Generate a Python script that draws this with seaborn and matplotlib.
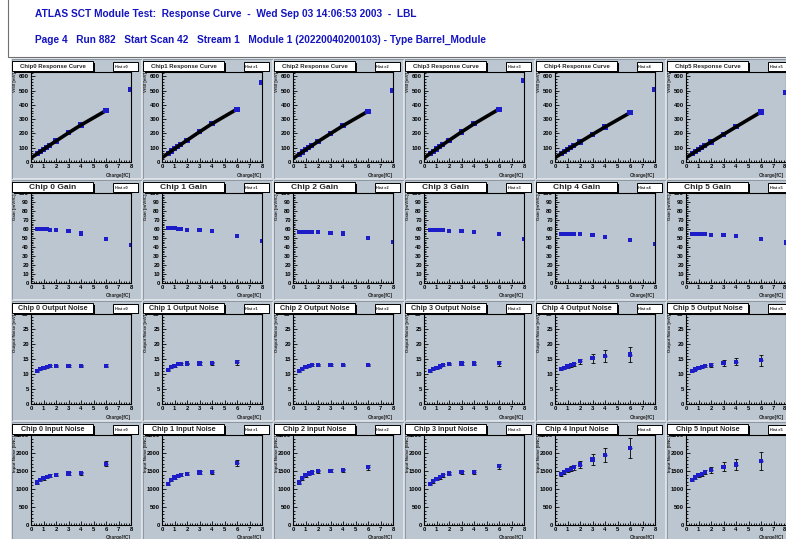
import matplotlib
matplotlib.use("Agg")
import matplotlib.pyplot as plt
from matplotlib.patches import Rectangle
from matplotlib.ticker import MultipleLocator
import pandas as pd
import seaborn as sns

sns.set_theme(style="ticks")
plt.rcParams['font.family'] = ['Liberation Sans', 'DejaVu Sans']

# ---------------------------------------------------------------- data
chips = [0, 1, 2, 3, 4, 5]
charges = [0.5, 0.75, 1.0, 1.25, 1.5, 2.0, 3.0, 4.0, 6.0, 8.0]
noise_charges = charges[:9]

# Vt50 at each injected charge [mV]
vt50 = {
    0: [58, 73, 88, 103, 118, 147, 204, 259, 360, 507],
    1: [61, 77, 92, 107, 122, 152, 211, 268, 370, 555],
    2: [55, 70, 85, 100, 114, 143, 199, 254, 355, 500],
    3: [60, 76, 91, 106, 121, 151, 210, 267, 370, 572],
    4: [58, 72, 86, 100, 113, 140, 193, 245, 345, 510],
    5: [58, 72, 86, 99, 113, 140, 193, 246, 350, 488],
}
# fitted response at zero charge [mV]
fit_offset = {0: 28, 1: 30, 2: 25, 3: 28, 4: 30, 5: 30}

gain = {
    0: [60, 60, 60, 60, 59, 59, 58, 55, 49, 42],
    1: [61, 61, 61, 60, 60, 59, 59, 58, 52, 47],
    2: [57, 57, 57, 57, 57, 57, 56, 55, 50, 46],
    3: [59, 59, 59, 59, 59, 58, 58, 57, 54, 49],
    4: [54, 54, 54, 54, 54, 54, 53, 51, 48, 43],
    5: [54, 54, 54, 54, 54, 53, 53, 52, 49, 45],
}

out_noise = {
    0: [11.0, 11.6, 12.0, 12.3, 12.6, 12.8, 12.8, 12.6, 12.8],
    1: [11.3, 12.2, 12.8, 13.2, 13.4, 13.5, 13.5, 13.6, 13.9],
    2: [11.0, 11.8, 12.3, 12.7, 12.9, 13.0, 13.0, 13.0, 13.0],
    3: [11.0, 11.6, 12.1, 12.5, 12.9, 13.4, 13.5, 13.5, 13.6],
    4: [11.7, 12.1, 12.5, 12.9, 13.3, 14.2, 15.2, 16.0, 16.5],
    5: [11.0, 11.5, 11.9, 12.3, 12.6, 13.1, 13.8, 14.1, 14.6],
}
out_noise_err = {
    0: [0.3, 0.3, 0.3, 0.3, 0.3, 0.3, 0.3, 0.3, 0.4],
    1: [0.3, 0.3, 0.3, 0.3, 0.3, 0.3, 0.4, 0.5, 0.9],
    2: [0.3, 0.3, 0.3, 0.3, 0.3, 0.3, 0.3, 0.3, 0.4],
    3: [0.3, 0.3, 0.3, 0.3, 0.3, 0.3, 0.4, 0.5, 0.8],
    4: [0.3, 0.3, 0.4, 0.5, 0.5, 0.8, 1.5, 2.0, 2.5],
    5: [0.3, 0.3, 0.3, 0.4, 0.4, 0.6, 1.0, 1.2, 1.8],
}

in_noise = {
    0: [1180, 1260, 1300, 1340, 1370, 1400, 1430, 1440, 1700],
    1: [1150, 1250, 1320, 1370, 1400, 1420, 1460, 1470, 1720],
    2: [1180, 1300, 1380, 1430, 1460, 1490, 1510, 1520, 1600],
    3: [1150, 1220, 1280, 1330, 1380, 1430, 1470, 1480, 1630],
    4: [1420, 1480, 1520, 1560, 1600, 1680, 1820, 1950, 2150],
    5: [1250, 1320, 1380, 1420, 1470, 1520, 1620, 1680, 1780],
}
in_noise_err = {
    0: [40, 40, 40, 40, 40, 40, 40, 40, 70],
    1: [40, 40, 40, 40, 40, 40, 40, 50, 80],
    2: [40, 40, 40, 40, 40, 40, 40, 40, 60],
    3: [40, 40, 40, 40, 40, 40, 40, 50, 70],
    4: [50, 50, 60, 70, 80, 100, 150, 200, 280],
    5: [40, 40, 50, 50, 60, 80, 120, 150, 250],
}

header_line1 = "ATLAS SCT Module Test:  Response Curve  -  Wed Sep 03 14:06:53 2003  -  LBL"
header_line2 = ("Page 4   Run 882   Start Scan 42   Stream 1   "
                "Module 1 (20220040200103) - Type Barrel_Module")

rows = [
    dict(title="Chip{} Response Curve", ylabel="Vt50 [mV]", ylim=630, major=100, minor=20, tsize=4.3),
    dict(title="Chip {} Gain", ylabel="Gain [mV/fC]", ylim=100, major=10, minor=2, tsize=6.0),
    dict(title="Chip {} Output Noise", ylabel="Output Noise [mV]", ylim=30, major=5, minor=1, tsize=5.2),
    dict(title="Chip {} Input Noise", ylabel="Input Noise [ENC]", ylim=2500, major=500, minor=100, tsize=5.2),
]

# ---------------------------------------------------------------- style
W, H = 786, 539
PAD = "#bcc6d0"
BLUE = "#1c1cc8"
HEAD = "#1414c0"

fig = plt.figure(figsize=(W / 100, H / 100), dpi=100)
fig.patch.set_facecolor("white")


def rect(x, y, w, h, z=3, **kw):
    """Rectangle in pixel units, origin at the top-left corner."""
    fig.patches.append(Rectangle((x / W, 1 - (y + h) / H), w / W, h / H,
                                 transform=fig.transFigure, figure=fig, zorder=z, **kw))


def ftext(x, y, s, **kw):
    kw.setdefault("zorder", 5)
    fig.text(x / W, 1 - y / H, s, **kw)


# header block
rect(8, -2, 790, 59, z=-2, facecolor="white", edgecolor="#707070", lw=0.8)
ftext(35, 14, header_line1, color=HEAD, fontsize=7.3, fontweight="bold",
      va="center", ha="left")
ftext(35, 40, header_line2, color=HEAD, fontsize=7.3, fontweight="bold",
      va="center", ha="left")

X0, Y0, CW, RH = 11, 58, 131, 121
FL, FR, FT, FB = 20, 120, 14, 104

for r, spec in enumerate(rows):
    for c in chips:
        px, py = X0 + CW * c, Y0 + RH * r
        # pad background with bevelled border
        rect(px, py, CW, RH, z=-2, facecolor=PAD, edgecolor="none")
        rect(px, py, CW - 1, RH - 1, z=-1, facecolor="none", edgecolor="#e4e9ee", lw=0.6)
        rect(px + 0.5, py + 0.5, CW - 1, RH - 1, z=-1, facecolor="none",
             edgecolor="#86909a", lw=0.6)

        ax = fig.add_axes([(px + FL) / W, 1 - (py + FB) / H, (FR - FL) / W, (FB - FT) / H])
        ax.set_zorder(1)
        ax.set_facecolor(PAD)
        for sp in ax.spines.values():
            sp.set_color("black")
            sp.set_linewidth(0.8)

        if r == 0:
            y = vt50[c]
            fit_df = pd.DataFrame({"q": [0.0] + charges[:9], "v": [fit_offset[c]] + y[:9]})
            sns.scatterplot(x=charges, y=y, ax=ax, marker="s", color=BLUE, s=14,
                            edgecolor="none", zorder=2)
            sns.lineplot(data=fit_df, x="q", y="v", ax=ax, color="black", lw=2.6,
                         estimator=None, sort=False, zorder=3)
            sns.scatterplot(x=charges[-2:], y=y[-2:], ax=ax, marker="s", color=BLUE,
                            s=14, edgecolor="none", zorder=4)
        elif r == 1:
            sns.scatterplot(x=charges, y=gain[c], ax=ax, marker="s", color=BLUE, s=9,
                            edgecolor="none", zorder=3)
        else:
            vals = out_noise[c] if r == 2 else in_noise[c]
            errs = out_noise_err[c] if r == 2 else in_noise_err[c]
            ax.errorbar(noise_charges, vals, yerr=errs, fmt="none", ecolor="black",
                        elinewidth=0.6, capsize=1.6, capthick=0.6, zorder=2)
            ax.errorbar(noise_charges, vals, xerr=0.12, fmt="none", ecolor=BLUE,
                        elinewidth=1.0, zorder=3)
            sns.scatterplot(x=noise_charges, y=vals, ax=ax, marker="s", color=BLUE, s=9,
                            edgecolor="none", zorder=4)

        ax.set_xlim(0, 8)
        ax.set_ylim(0, spec["ylim"])
        ax.xaxis.set_major_locator(MultipleLocator(1))
        ax.xaxis.set_minor_locator(MultipleLocator(0.2))
        ax.yaxis.set_major_locator(MultipleLocator(spec["major"]))
        ax.yaxis.set_minor_locator(MultipleLocator(spec["minor"]))
        ax.tick_params(which="both", direction="in", top=False, right=False,
                       colors="black", width=0.6)
        ax.tick_params(which="major", length=3, labelsize=4.2, pad=1.5)
        ax.tick_params(which="minor", length=1.5)
        ax.set_xlabel("")
        ax.set_ylabel("")
        fig.canvas.draw_idle()
        xlabels = [lab for lab in ax.get_xticklabels()]
        for lab in xlabels + ax.get_yticklabels():
            lab.set_fontweight("bold")
        if c == chips[-1]:
            # keep the last label inside the page edge
            ax.set_xticks(range(0, 9))
            ax.set_xticklabels([str(v) for v in range(0, 9)], fontweight="bold")
            ax.get_xticklabels()[-1].set_horizontalalignment("right")

        # axis titles
        right = min(px + FR, W - 2)
        ftext(right, py + FB + 13, "Charge[fC]", fontsize=3.4, fontweight="bold",
              ha="right", va="center")
        ftext(px + 4, py + FT, spec["ylabel"], fontsize=3.2, fontweight="bold",
              rotation=90, ha="center", va="top")

        # title box with shadow
        rect(px + 2.5, py + 4.5, 81, 10, z=3, facecolor="black", edgecolor="none")
        rect(px + 1, py + 3, 81, 10, z=4, facecolor="white", edgecolor="black", lw=0.7)
        ftext(px + 41.5, py + 8.2, spec["title"].format(c), fontsize=spec["tsize"],
              fontweight="bold", ha="center", va="center")
        # stats box (runs past the figure edge in the last column)
        rect(px + 103, py + 5, 25, 9, z=3, facecolor="black", edgecolor="none")
        rect(px + 102, py + 4, 25, 9, z=4, facecolor="white", edgecolor="black", lw=0.7)
        ftext(px + 103.5, py + 8.6, "Hist e{}".format(c), fontsize=2.8, fontweight="bold",
              ha="left", va="center")

fig.savefig("out.png", dpi=100)
